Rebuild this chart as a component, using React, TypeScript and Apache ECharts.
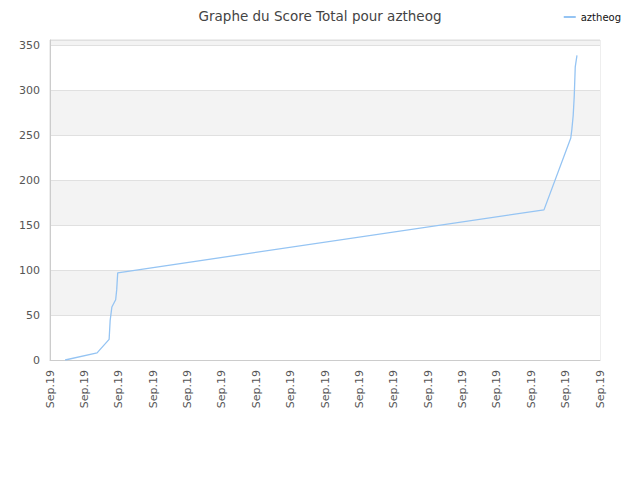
import * as echarts from 'echarts';
import { useEffect, useRef } from 'react';

// x position in label steps (0..16), y = score total
const xSteps = [0.44, 1.37, 1.44, 1.72, 1.75, 1.8, 1.91, 1.94, 1.97, 14.37, 15.15, 15.18, 15.22, 15.25, 15.28, 15.33];
const scores = [0, 8, 11, 23, 44, 59, 67, 78, 97, 167, 247, 256, 272, 293, 326, 339];
const tickLabels = Array.from({ length: 17 }, () => 'Sep.19');

const FONT = 'DejaVu Sans';

export default function App() {
  const chartRef = useRef<HTMLDivElement>(null);

  useEffect(() => {
    document.body.style.margin = '0';
    if (!chartRef.current) return;
    const chart = echarts.init(chartRef.current, undefined, { renderer: 'svg' });

    const option: echarts.EChartsOption = {
      animation: false,
      textStyle: { fontFamily: FONT },
      title: {
        text: 'Graphe du Score Total pour aztheog',
        left: 'center',
        top: 4,
        textStyle: { fontSize: 13.5, fontWeight: 'normal', color: '#444', fontFamily: FONT },
      },
      legend: {
        data: ['aztheog'],
        right: 14,
        top: 7,
        itemWidth: 12,
        itemHeight: 2,
        itemGap: 6,
        icon: 'rect',
        textStyle: { fontSize: 10, color: '#111', fontFamily: FONT },
      },
      grid: {
        left: 50,
        right: 40,
        top: 40,
        bottom: 120,
        show: true,
        borderColor: '#ddd',
        borderWidth: 1,
        backgroundColor: 'transparent',
      },
      xAxis: {
        type: 'value',
        min: 0,
        max: 16,
        interval: 1,
        axisLine: { show: true, lineStyle: { color: '#ccc' } },
        axisTick: { show: false },
        splitLine: { show: false },
        axisLabel: {
          rotate: 90,
          fontSize: 11,
          color: '#555',
          margin: 10,
          formatter: (v: number) => tickLabels[Math.round(v)] ?? '',
        },
      },
      yAxis: {
        type: 'value',
        min: 0,
        max: 356,
        interval: 50,
        axisLine: { show: true, lineStyle: { color: '#ccc' } },
        axisTick: { show: false },
        axisLabel: {
          fontSize: 11,
          color: '#555',
          margin: 10,
          formatter: (v: number) => (v % 50 === 0 ? String(v) : ''),
        },
        splitLine: { show: true, lineStyle: { color: '#e0e0e0' } },
        splitArea: { show: true, areaStyle: { color: ['#ffffff', '#f3f3f3'] } },
      },
      series: [
        {
          name: 'aztheog',
          type: 'line',
          data: xSteps.map((x, i) => [x, scores[i]]),
          showSymbol: false,
          lineStyle: { width: 1.3, color: '#95c4f3' },
          itemStyle: { color: '#95c4f3' },
        },
      ],
    };

    chart.setOption(option);
    return () => {
      chart.dispose();
    };
  }, []);

  return <div ref={chartRef} style={{ width: 640, height: 480 }} />;
}
